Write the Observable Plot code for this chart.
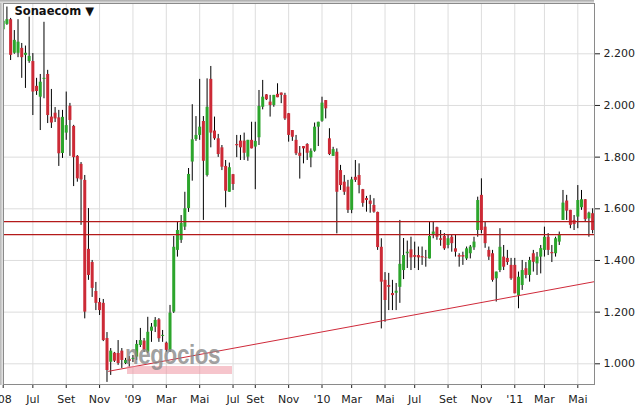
<!DOCTYPE html>
<html>
<head>
<meta charset="utf-8">
<script src="https://cdn.jsdelivr.net/npm/d3@7"></script>
<script src="https://cdn.jsdelivr.net/npm/@observablehq/plot@0.6"></script>
<style>
  html, body { margin: 0; padding: 0; background: #fff; }
  #wrap { position: relative; width: 637px; height: 407px; overflow: hidden; }
  #wrap svg { position: absolute; left: 0; top: 0; }
  .ov { position: absolute; pointer-events: none; white-space: nowrap; }
</style>
</head>
<body>
<div id="wrap"></div>
<script>
// Weekly candles (index 0 = first week shown)
const open = [2.293,2.314,2.332,2.202,2.202,2.221,2.194,2.170,2.170,2.074,2.032,2.101,2.120,1.955,1.970,1.952,1.814,1.893,1.997,1.919,
1.803,1.772,1.710,1.443,1.392,1.280,1.237,1.234,1.098,1.006,1.041,1.040,1.049,1.001,1.017,1.017,1.026,1.071,1.088,1.045,
1.126,1.142,1.170,1.106,1.080,1.052,1.200,1.439,1.478,1.529,1.601,1.781,1.868,1.884,1.938,1.729,2.101,1.901,1.871,1.836,
1.764,1.664,1.732,1.849,1.862,1.862,1.800,1.865,1.839,1.875,1.993,2.041,2.013,2.000,2.043,2.048,2.039,1.968,1.903,1.865,
1.815,1.841,1.849,1.797,1.823,1.916,1.939,2.019,1.871,1.803,1.819,1.748,1.703,1.684,1.594,1.722,1.729,1.674,1.640,1.630,
1.613,1.586,1.451,1.323,1.303,1.272,1.273,1.296,1.361,1.426,1.441,1.419,1.419,1.415,1.410,1.406,1.501,1.527,1.484,1.493,
1.458,1.490,1.445,1.419,1.419,1.406,1.426,1.449,1.516,1.652,1.529,1.439,1.426,1.329,1.361,1.413,1.408,1.381,1.381,1.264,
1.303,1.368,1.342,1.426,1.387,1.413,1.439,1.490,1.431,1.426,1.471,1.555,1.630,1.594,1.555,1.568,1.604,1.635,1.561,1.581];
const high = [2.348,2.381,2.337,2.290,2.332,2.240,2.230,2.342,2.201,2.105,2.120,2.322,2.136,2.062,1.992,1.981,1.981,2.052,2.008,1.923,
1.806,1.779,1.729,1.601,1.400,1.315,1.253,1.249,1.121,1.059,1.044,1.090,1.059,1.021,1.028,1.032,1.090,1.137,1.098,1.180,
1.156,1.179,1.175,1.129,1.084,1.226,1.493,1.548,1.574,1.664,1.756,2.003,1.957,2.101,1.957,2.103,2.151,1.955,1.888,1.845,
1.787,1.777,1.733,1.884,1.884,1.893,1.865,1.935,1.935,2.058,2.097,2.042,2.039,2.039,2.084,2.048,2.047,1.969,1.903,1.884,
1.841,1.841,1.852,1.832,1.932,1.935,2.032,2.019,1.910,1.838,1.832,1.768,1.729,1.710,1.722,1.787,1.774,1.675,1.648,1.652,
1.639,1.587,1.484,1.353,1.350,1.323,1.311,1.555,1.485,1.475,1.490,1.471,1.452,1.452,1.439,1.548,1.548,1.529,1.516,1.504,
1.497,1.497,1.497,1.426,1.432,1.452,1.458,1.490,1.645,1.716,1.548,1.452,1.439,1.355,1.523,1.458,1.439,1.408,1.408,1.355,
1.400,1.392,1.412,1.439,1.431,1.458,1.529,1.504,1.458,1.490,1.510,1.671,1.652,1.594,1.574,1.690,1.671,1.636,1.587,1.600];
const low = [2.287,2.310,2.174,2.198,2.185,2.105,2.066,2.163,1.961,2.039,1.903,2.026,1.930,1.911,1.934,1.764,1.795,1.865,1.803,1.686,
1.703,1.536,1.174,1.323,1.257,1.206,1.187,1.086,0.928,0.955,1.005,0.994,0.982,0.997,0.986,1.005,1.013,1.063,1.044,1.040,
1.083,1.121,1.083,1.083,1.044,1.044,1.195,1.413,1.466,1.516,1.586,1.707,1.861,1.865,1.555,1.723,1.836,1.865,1.799,1.748,
1.604,1.664,1.671,1.798,1.787,1.787,1.784,1.832,1.674,1.845,1.983,2.019,1.955,1.993,2.030,2.007,1.942,1.858,1.861,1.806,
1.715,1.774,1.787,1.759,1.819,1.841,1.935,1.948,1.806,1.803,1.503,1.671,1.652,1.582,1.581,1.702,1.658,1.606,1.587,1.583,
1.583,1.439,1.135,1.161,1.206,1.206,1.206,1.234,1.326,1.369,1.361,1.369,1.361,1.381,1.374,1.406,1.484,1.478,1.455,1.439,
1.445,1.432,1.413,1.374,1.381,1.400,1.406,1.439,1.490,1.503,1.447,1.400,1.316,1.239,1.353,1.361,1.381,1.323,1.271,1.213,
1.284,1.329,1.316,1.355,1.342,1.348,1.413,1.419,1.392,1.413,1.458,1.555,1.555,1.523,1.516,1.523,1.594,1.547,1.490,1.503];
const close = [2.326,2.332,2.194,2.252,2.245,2.185,2.202,2.190,2.052,2.054,2.090,2.105,1.961,1.932,1.948,1.813,1.954,1.922,1.942,1.798,
1.716,1.712,1.200,1.342,1.292,1.234,1.206,1.090,0.974,1.049,1.010,1.001,1.013,1.013,1.009,1.021,1.075,1.090,1.052,1.122,
1.142,1.168,1.097,1.110,1.052,1.196,1.451,1.516,1.543,1.600,1.733,1.867,1.884,1.916,1.784,1.993,1.893,1.871,1.810,1.761,
1.668,1.759,1.694,1.844,1.836,1.815,1.865,1.832,1.861,1.996,2.032,2.022,2.000,2.039,2.030,2.039,1.948,1.884,1.877,1.813,
1.803,1.832,1.815,1.823,1.916,1.935,2.009,1.987,1.810,1.829,1.664,1.690,1.664,1.594,1.712,1.710,1.690,1.621,1.632,1.617,
1.587,1.450,1.316,1.245,1.296,1.264,1.281,1.385,1.419,1.432,1.410,1.412,1.410,1.410,1.408,1.493,1.510,1.490,1.478,1.445,
1.484,1.465,1.432,1.413,1.413,1.445,1.452,1.471,1.632,1.516,1.465,1.413,1.323,1.355,1.451,1.374,1.392,1.329,1.271,1.335,
1.361,1.342,1.400,1.393,1.413,1.446,1.490,1.439,1.426,1.484,1.497,1.622,1.591,1.536,1.539,1.632,1.635,1.558,1.583,1.516];

// Axis ticks: candle index where each labelled month starts
const tickIdx = [0, 8, 17, 26, 35, 44, 53, 62, 68, 77, 86, 94, 103, 111, 120, 129, 138, 146, 155];
const tickLabels = ["'08","Jul","Set","Nov","'09","Mar","Mai","Jul","Set","Nov","'10","Mar","Mai","Jul","Set","Nov","'11","Mar","Mai"];
const yTicks = [1.0, 1.2, 1.4, 1.6, 1.8, 2.0, 2.2];

// Support / resistance levels and trend line
const levels = [1.55, 1.50];
const trendIdx = [28.4, 159.5];
const trendVal = [0.971, 1.318];

const title = "Sonaecom ▼";

const candles = open.map((o, i) => ({i, o, h: high[i], l: low[i], c: close[i]}));
const trend = trendIdx.map((x, k) => ({x, y: trendVal[k]}));

const GREEN = "#2ca52c", RED = "#cc2a36";

const chart = Plot.plot({
  width: 637, height: 407,
  marginLeft: 3, marginRight: 43, marginTop: 3, marginBottom: 23,
  style: {fontFamily: "'DejaVu Sans', Verdana, sans-serif", fontSize: "11px", color: "#222", background: "white", overflow: "hidden"},
  x: {type: "linear", domain: [0, 155], range: [2.7, 577.3], ticks: tickIdx,
      tickFormat: d => tickLabels[tickIdx.indexOf(d)], tickSize: 4, tickPadding: 7, label: null},
  y: {type: "linear", domain: [1, 2.2], range: [363.3, 53.3], axis: "right", ticks: yTicks,
      tickFormat: d3.format(".3f"), tickSize: 5, tickPadding: 4, label: null},
  marks: [
    Plot.ruleX(tickIdx, {stroke: "#dddddd", strokeWidth: 1}),
    Plot.ruleY(yTicks, {stroke: "#dddddd", strokeWidth: 1}),
    Plot.ruleX(candles, {x: "i", y1: "l", y2: "h", stroke: "#000", strokeWidth: 1}),
    Plot.ruleX(candles, {x: "i", y1: "o", y2: "c", stroke: d => d.c >= d.o ? GREEN : RED, strokeWidth: 3}),
    Plot.line(trend, {x: "x", y: "y", stroke: "#cf2a3a", strokeWidth: 1}),
    Plot.ruleY(levels, {stroke: "#b41a1a", strokeWidth: 1.3}),
    Plot.text([title], {frameAnchor: "top-left", text: d => d, dx: 11, dy: 8, textAnchor: "start",
      lineAnchor: "middle", fontWeight: "bold", fontSize: 11.5, fill: "#111"}),
    Plot.frame({stroke: "#8a8a8a", strokeWidth: 1})
  ]
});

const wrap = document.getElementById("wrap");
wrap.appendChild(chart);

function ov(css, text) {
  const d = document.createElement("div");
  d.className = "ov";
  d.style.cssText = css;
  if (text) d.textContent = text;
  wrap.appendChild(d);
}
// watermark
ov("left:127px;top:366px;width:105px;height:8px;background:rgba(238,150,162,0.55);");
ov("left:125px;top:339px;font:bold 28px 'Liberation Sans',Arial,sans-serif;color:rgba(135,135,135,0.8);transform:scaleX(0.8);transform-origin:0 0;letter-spacing:-0.5px;", "negocios");
// panel borders
ov("left:0;top:0;width:3px;height:385px;background:linear-gradient(90deg,#b5b5b5,#e8e8e8);");
ov("left:0;top:0;width:594px;height:3px;background:linear-gradient(180deg,#a8a8a8,#e6e6e6);");
</script>
</body>
</html>
